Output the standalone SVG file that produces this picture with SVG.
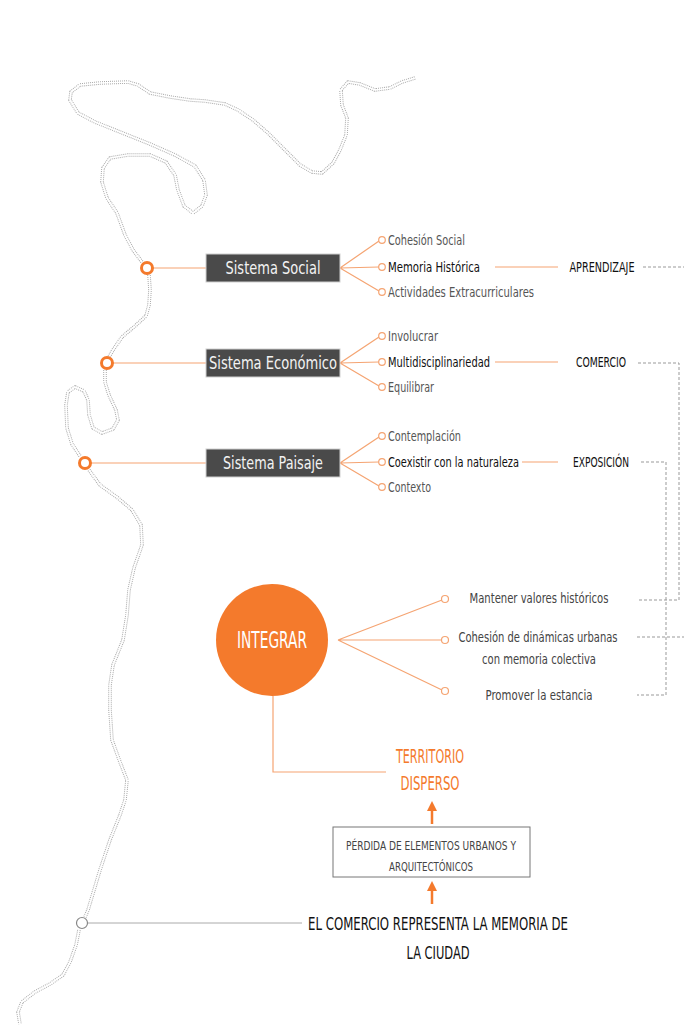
<svg xmlns="http://www.w3.org/2000/svg" width="684" height="1026" viewBox="0 0 684 1026">
<defs>
<style>
.t{font-family:"DejaVu Sans Condensed","Liberation Sans Narrow","Liberation Sans",sans-serif;font-stretch:condensed}
.sys{font-size:17px;fill:#f2f2f2;text-anchor:middle}
.it{font-size:14px;fill:#555}
.itb{font-size:14px;fill:#111}
.lab{font-size:14px;fill:#111;text-anchor:middle}
.mid{font-size:14px;fill:#444;text-anchor:middle}
.ol{stroke:#f5a472;stroke-width:1.2;fill:none}
.sc{fill:#fff;stroke:#f5a472;stroke-width:1.2}
.bc{fill:#fff;stroke:#f47a2c;stroke-width:3}
.box{fill:#4a4a4a;stroke:#cfcfcf;stroke-width:1}
.dash{stroke:#999;stroke-width:1;stroke-dasharray:3 2;fill:none}
.rv1{fill:none;stroke:#aaa;stroke-width:3.6;stroke-dasharray:1 1;stroke-linejoin:round;stroke-linecap:butt}
.rv2{fill:none;stroke:#fff;stroke-width:1.6;stroke-linejoin:round}
</style>
<marker id="ar" viewBox="0 0 10 10" refX="5" refY="5" markerWidth="4" markerHeight="4" orient="auto-start-reverse">
<path d="M0,0 L10,5 L0,10 z" fill="#f47a2c"/>
</marker>
</defs>
<rect width="684" height="1026" fill="#fff"/>

<g id="river">
<polyline class="rv1" points="415,78 402,82 390,88 375,90 360,84 348,82 341,90 342,105 347,118 346,135 340,150 333,163 322,173 312,172 300,165 285,150 268,133 253,120 238,110 225,104 205,101 190,100 170,97 150,93 138,85 128,82 100,83 80,85 71,92 70,100 78,113 95,122 115,130 150,144 175,155 195,166 204,180 206,195 202,206 193,213 184,206 178,190 175,175 166,162 150,155 128,155 110,158 103,168 102,182 107,198 117,213 125,235 133,250 142,262"/>
<polyline class="rv2" points="415,78 402,82 390,88 375,90 360,84 348,82 341,90 342,105 347,118 346,135 340,150 333,163 322,173 312,172 300,165 285,150 268,133 253,120 238,110 225,104 205,101 190,100 170,97 150,93 138,85 128,82 100,83 80,85 71,92 70,100 78,113 95,122 115,130 150,144 175,155 195,166 204,180 206,195 202,206 193,213 184,206 178,190 175,175 166,162 150,155 128,155 110,158 103,168 102,182 107,198 117,213 125,235 133,250 142,262"/>
<polyline class="rv1" points="149,275 150,290 149,305 146,316 135,326 122,337 113,350 109,357"/>
<polyline class="rv2" points="149,275 150,290 149,305 146,316 135,326 122,337 113,350 109,357"/>
<polyline class="rv1" points="105,370 105,382 109,395 116,410 118,420 113,429 102,433 93,428 89,415 88,400 84,391 75,387 68,392 66,405 67,428 72,444 80,456"/>
<polyline class="rv2" points="105,370 105,382 109,395 116,410 118,420 113,429 102,433 93,428 89,415 88,400 84,391 75,387 68,392 66,405 67,428 72,444 80,456"/>
<polyline class="rv1" points="89,470 100,485 118,498 132,510 141,525 142,545 134,568 129,590 127,615 123,640 113,665 110,685 110,710 112,740 120,762 127,780 125,800 120,815 110,840 100,870 88,910 85,917"/>
<polyline class="rv2" points="89,470 100,485 118,498 132,510 141,525 142,545 134,568 129,590 127,615 123,640 113,665 110,685 110,710 112,740 120,762 127,780 125,800 120,815 110,840 100,870 88,910 85,917"/>
<polyline class="rv1" points="79,930 76,945 70,962 63,975 50,984 35,992 22,1002 18,1012 20,1024"/>
<polyline class="rv2" points="79,930 76,945 70,962 63,975 50,984 35,992 22,1002 18,1012 20,1024"/>
</g>

<g id="connectors">
<line class="ol" x1="153" y1="268" x2="206" y2="268"/>
<line class="ol" x1="113" y1="363" x2="206" y2="363"/>
<line class="ol" x1="91" y1="463" x2="206" y2="463"/>
<path class="ol" d="M340,268 L379,241 M340,268 L379,267 M340,268 L379,291"/>
<path class="ol" d="M340,363 L379,337 M340,363 L379,362 M340,363 L379,386"/>
<path class="ol" d="M340,463 L379,437 M340,463 L379,462 M340,463 L379,486"/>
<line class="ol" x1="495" y1="267" x2="558" y2="267"/>
<line class="ol" x1="495" y1="362" x2="558" y2="362"/>
<line class="ol" x1="522" y1="462" x2="558" y2="462"/>
<path class="dash" d="M643,267 L684,267"/>
<path class="dash" d="M638,363 L679,363 L679,600 L637,600"/>
<path class="dash" d="M641,462 L666,462 L666,695 L637,695"/>
<path class="dash" d="M637,637 L684,637"/>
<path class="ol" d="M338,640 L442,600 M338,640 L441,640 M338,640 L442,690"/>
<path class="ol" d="M273,696 L273,772 L386,772"/>
<line x1="432" y1="824" x2="432" y2="806" stroke="#f47a2c" stroke-width="2.5" marker-end="url(#ar)"/>
<line x1="432" y1="904" x2="432" y2="886" stroke="#f47a2c" stroke-width="2.5" marker-end="url(#ar)"/>
<line x1="88" y1="923" x2="302" y2="923" stroke="#aaa" stroke-width="1"/>
</g>

<g id="sistema-social">
<circle class="bc" cx="147" cy="268" r="5.5"/>
<rect class="box" x="206" y="254" width="134" height="28"/>
<text class="t sys" x="273" y="274" textLength="95" lengthAdjust="spacingAndGlyphs">Sistema Social</text>
<circle class="sc" cx="382" cy="240" r="3.3"/>
<circle class="sc" cx="382" cy="267" r="3.3"/>
<circle class="sc" cx="382" cy="292" r="3.3"/>
<text class="t it" x="388" y="245" textLength="77" lengthAdjust="spacingAndGlyphs">Cohesión Social</text>
<text class="t itb" x="388" y="272" textLength="92" lengthAdjust="spacingAndGlyphs">Memoria Histórica</text>
<text class="t it" x="388" y="297" textLength="146" lengthAdjust="spacingAndGlyphs">Actividades Extracurriculares</text>
</g>
<g id="aprendizaje"><text class="t lab" x="602" y="272" textLength="65" lengthAdjust="spacingAndGlyphs">APRENDIZAJE</text></g>

<g id="sistema-economico">
<circle class="bc" cx="107" cy="363" r="5.5"/>
<rect class="box" x="206" y="349" width="134" height="28"/>
<text class="t sys" x="273" y="369" textLength="128" lengthAdjust="spacingAndGlyphs">Sistema Económico</text>
<circle class="sc" cx="382" cy="336" r="3.3"/>
<circle class="sc" cx="382" cy="362" r="3.3"/>
<circle class="sc" cx="382" cy="387" r="3.3"/>
<text class="t it" x="388" y="341" textLength="50" lengthAdjust="spacingAndGlyphs">Involucrar</text>
<text class="t itb" x="388" y="367" textLength="102" lengthAdjust="spacingAndGlyphs">Multidisciplinariedad</text>
<text class="t it" x="388" y="392" textLength="46" lengthAdjust="spacingAndGlyphs">Equilibrar</text>
</g>
<g id="comercio"><text class="t lab" x="601" y="367" textLength="50" lengthAdjust="spacingAndGlyphs">COMERCIO</text></g>

<g id="sistema-paisaje">
<circle class="bc" cx="85" cy="463" r="5.5"/>
<rect class="box" x="206" y="449" width="134" height="28"/>
<text class="t sys" x="273" y="469" textLength="100" lengthAdjust="spacingAndGlyphs">Sistema Paisaje</text>
<circle class="sc" cx="382" cy="436" r="3.3"/>
<circle class="sc" cx="382" cy="462" r="3.3"/>
<circle class="sc" cx="382" cy="487" r="3.3"/>
<text class="t it" x="388" y="441" textLength="73" lengthAdjust="spacingAndGlyphs">Contemplación</text>
<text class="t itb" x="388" y="467" textLength="131" lengthAdjust="spacingAndGlyphs">Coexistir con la naturaleza</text>
<text class="t it" x="388" y="492" textLength="43" lengthAdjust="spacingAndGlyphs">Contexto</text>
</g>
<g id="exposicion"><text class="t lab" x="601" y="467" textLength="56" lengthAdjust="spacingAndGlyphs">EXPOSICIÓN</text></g>

<g id="integrar">
<circle cx="272" cy="640" r="56" fill="#f47a2c"/>
<text class="t" x="272" y="648" font-size="23" fill="#fff" text-anchor="middle" textLength="70" lengthAdjust="spacingAndGlyphs">INTEGRAR</text>
</g>
<g id="mantener">
<circle class="sc" cx="445" cy="599" r="3.5"/>
<text class="t mid" x="539" y="603" textLength="139" lengthAdjust="spacingAndGlyphs">Mantener valores históricos</text>
</g>
<g id="cohesion-dinamicas">
<circle class="sc" cx="445" cy="640" r="3.5"/>
<text class="t mid" x="538" y="642" textLength="159" lengthAdjust="spacingAndGlyphs">Cohesión de dinámicas urbanas</text>
<text class="t mid" x="539" y="664" textLength="114" lengthAdjust="spacingAndGlyphs">con memoria colectiva</text>
</g>
<g id="promover">
<circle class="sc" cx="445" cy="691" r="3.5"/>
<text class="t mid" x="539" y="700" textLength="107" lengthAdjust="spacingAndGlyphs">Promover la estancia</text>
</g>

<g id="territorio">
<text class="t" x="430" y="763" font-size="19" fill="#f47a2c" text-anchor="middle" textLength="68" lengthAdjust="spacingAndGlyphs">TERRITORIO</text>
<text class="t" x="430" y="790" font-size="19" fill="#f47a2c" text-anchor="middle" textLength="59" lengthAdjust="spacingAndGlyphs">DISPERSO</text>
</g>

<g id="perdida">
<rect x="333" y="827" width="197" height="50" fill="#fff" stroke="#777" stroke-width="1"/>
<text class="t" x="431" y="850" font-size="12.5" fill="#444" text-anchor="middle" textLength="170" lengthAdjust="spacingAndGlyphs">PÉRDIDA DE ELEMENTOS URBANOS Y</text>
<text class="t" x="431" y="871" font-size="12.5" fill="#444" text-anchor="middle" textLength="84" lengthAdjust="spacingAndGlyphs">ARQUITECTÓNICOS</text>
</g>

<g id="comercio-memoria">
<circle cx="82" cy="923" r="5.5" fill="#fff" stroke="#888" stroke-width="1.2"/>
<text class="t" x="438" y="930" font-size="17" fill="#111" text-anchor="middle" textLength="260" lengthAdjust="spacingAndGlyphs">EL COMERCIO REPRESENTA LA MEMORIA DE</text>
<text class="t" x="438" y="959" font-size="17" fill="#111" text-anchor="middle" textLength="63" lengthAdjust="spacingAndGlyphs">LA CIUDAD</text>
</g>
</svg>
